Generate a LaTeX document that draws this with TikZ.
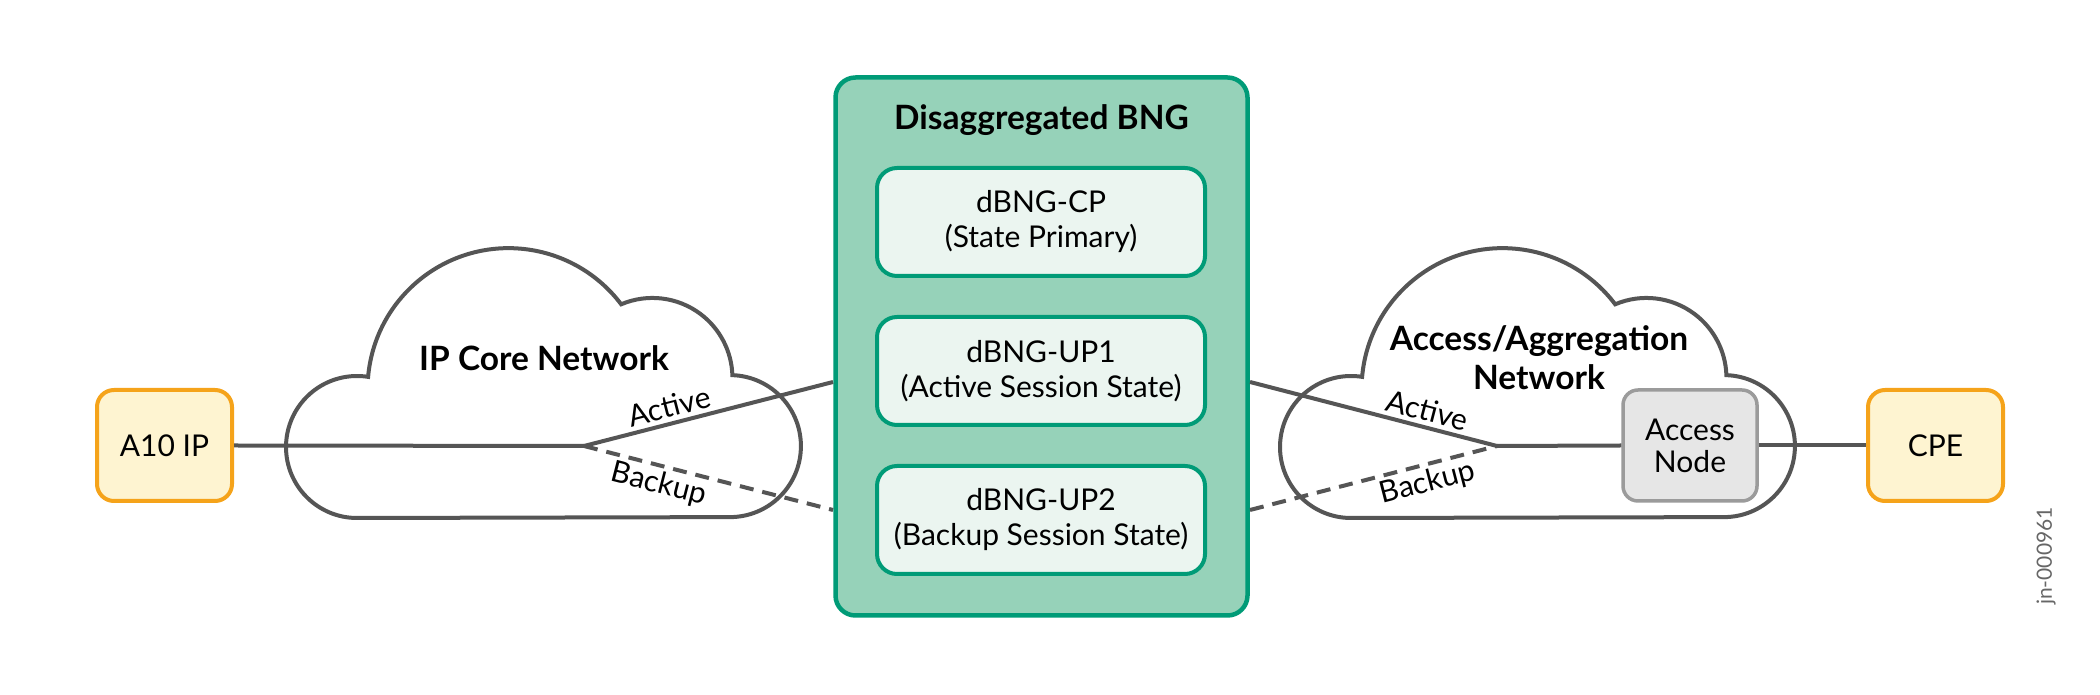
\documentclass[tikz,border=0pt]{standalone}
\usepackage{fontspec}
\setmainfont{Lato}
\usetikzlibrary{calc}
\definecolor{lineg}{HTML}{555555}
\definecolor{bngfill}{HTML}{96D2B9}
\definecolor{bngdraw}{HTML}{009B77}
\definecolor{innerfill}{HTML}{EBF5F0}
\definecolor{orgdraw}{HTML}{F5A31A}
\definecolor{orgfill}{HTML}{FEF4D1}
\definecolor{grayfill}{HTML}{E6E6E6}
\definecolor{graydraw}{HTML}{9B9B9B}
\definecolor{idgray}{HTML}{666666}
\begin{document}
\begin{tikzpicture}[x=1pt,y=1pt,
  basefont/.style={font=\fontsize{30}{35}\selectfont},
  nodefont/.style={font=\fontsize{30}{32}\selectfont},
  boldfont/.style={font=\bfseries\fontsize{33.5}{39}\selectfont},
  cloudline/.style={draw=lineg, line width=4pt, fill=white},
  conn/.style={draw=lineg, line width=4pt},
  dashconn/.style={draw=lineg, line width=4pt, dash pattern=on 14pt off 9pt},
  orangebox/.style={nodefont, draw=orgdraw, fill=orgfill, line width=4pt, rounded corners=17pt, minimum width=135pt, minimum height=111pt, inner sep=0pt, align=center},
  graybox/.style={nodefont, draw=graydraw, fill=grayfill, line width=3.5pt, rounded corners=15pt, minimum width=134pt, minimum height=111pt, inner sep=0pt, align=center},
  bngbox/.style={draw=bngdraw, fill=bngfill, line width=4.5pt, rounded corners=20pt, minimum width=412pt, minimum height=538pt, inner sep=0pt},
  innerbox/.style={basefont, draw=bngdraw, fill=innerfill, line width=4pt, rounded corners=20pt, minimum width=328pt, minimum height=108pt, inner sep=0pt, align=center},
  lbl/.style={basefont, inner sep=0pt, text=black},
  cloudtxt/.style={boldfont, align=center, inner sep=0pt}
]
\useasboundingbox (0,0) rectangle (2100,695);

% clouds
\foreach \dx in {0,994}{
  \draw[cloudline] (357+\dx,177) arc[start angle=270, end angle=81, radius=71]
    arc[start angle=175, end angle=37, radius=141]
    arc[start angle=113, end angle=2, radius=80]
    arc[start angle=88, end angle=-90, radius=71] -- cycle;
}
\node[cloudtxt] (ipcore) at (544,337) {IP Core Network};
\node[cloudtxt] (accnet) at (1539,337) {Access/Aggregation\\Network};

% main nodes
\node[orangebox] (a10) at (164.5,249.5) {A10 IP};
\node[orangebox] (cpe) at (1935.5,249.5) {CPE};
\node[graybox] (acc) at (1690,249.5) {Access\\Node};

\node[bngbox] (bng) at (1041.5,348.5) {};
\node[boldfont] (bngt) at (1041.5,575) {Disaggregated BNG};
\node[innerbox] (cp) at (1041,473) {dBNG-CP\\(State Primary)};
\node[innerbox] (up1) at (1041,324) {dBNG-UP1\\(Active Session State)};
\node[innerbox] (up2) at (1041,175) {dBNG-UP2\\(Backup Session State)};

% junctions and attachment points
\coordinate (j1) at (584,249);
\coordinate (j2) at (1497,249);
\coordinate (bngL1) at (833,313);
\coordinate (bngL2) at (833,185);
\coordinate (bngR1) at (1250,313);
\coordinate (bngR2) at (1250,185);

% connectors
\draw[conn] (a10.east) -- (j1);
\draw[conn] (j1) -- node[lbl, above=4pt, sloped, pos=0.36] {Active} (bngL1);
\draw[dashconn] (j1) -- node[lbl, below=3pt, sloped, pos=0.32] {Backup} (bngL2);
\draw[conn] (bngR1) -- node[lbl, above=4pt, sloped, pos=0.70] {Active} (j2);
\draw[dashconn] (bngR2) -- node[lbl, below=3pt, sloped, pos=0.70] {Backup} (j2);
\draw[conn] (j2) -- (acc.west);
\draw[conn] (acc.east) -- (cpe.west);

\node[rotate=90, text=idgray, font=\fontsize{21}{24}\selectfont, inner sep=0pt] (jn) at (2046,139) {jn-000961};
\end{tikzpicture}
\end{document}
